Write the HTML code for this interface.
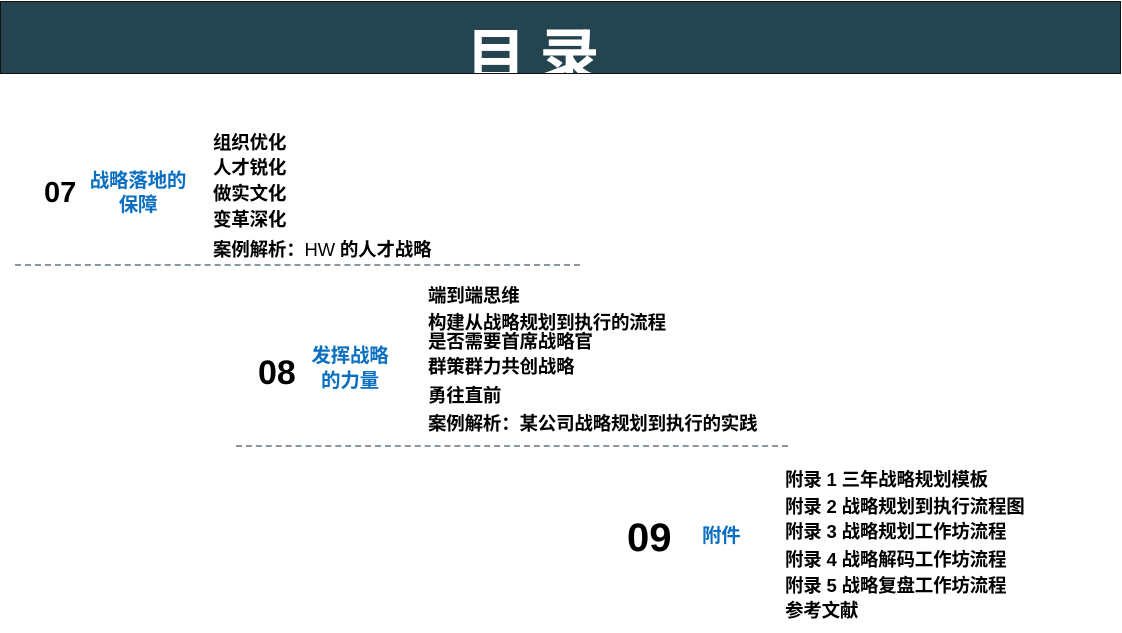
<!DOCTYPE html>
<html><head><meta charset="utf-8"><style>
body{margin:0;width:1122px;height:633px;background:#fff;position:relative;overflow:hidden;font-family:"Liberation Sans","Noto Sans CJK SC",sans-serif;}
.t{position:absolute;font-size:18.5px;line-height:20px;font-weight:bold;color:#000;white-space:nowrap;letter-spacing:-0.2px;}
.b{color:#0a6fc0;text-align:center;}
.n{position:absolute;font-weight:bold;color:#000;line-height:1;}
.d{position:absolute;height:0;border-top:2px dashed #8a97a0;}
</style></head><body>
<div style="position:absolute;left:0;top:1px;width:1119px;height:71px;background:#24444f;border:1px solid #111;"></div>
<div style="position:absolute;left:466px;top:18px;width:130px;height:55px;overflow:hidden;color:#fff;font-weight:bold;font-size:60px;line-height:70px;white-space:nowrap;font-family:'Noto Sans CJK SC',sans-serif;">目 录</div>

<div class="n" style="left:44px;top:179px;font-size:29px;">07</div>
<div class="t b" style="left:84px;top:169px;width:108px;font-size:19.5px;line-height:24px;">战略落地的<br>保障</div>
<div class="t" style="left:213px;top:133px;">组织优化</div>
<div class="t" style="left:213px;top:158px;">人才锐化</div>
<div class="t" style="left:213px;top:184px;">做实文化</div>
<div class="t" style="left:213px;top:210px;">变革深化</div>
<div class="t" style="left:213px;top:240px;">案例解析：<span style="font-weight:normal">HW</span> 的人才战略</div>
<div class="d" style="left:15px;top:264px;width:565px;"></div>

<div class="n" style="left:258px;top:356px;font-size:34px;">08</div>
<div class="t b" style="left:303px;top:344px;width:94px;font-size:19.5px;line-height:25px;">发挥战略<br>的力量</div>
<div class="t" style="left:428px;top:286px;">端到端思维</div>
<div class="t" style="left:428px;top:313px;">构建从战略规划到执行的流程</div>
<div class="t" style="left:428px;top:332px;">是否需要首席战略官</div>
<div class="t" style="left:428px;top:357px;">群策群力共创战略</div>
<div class="t" style="left:428px;top:386px;">勇往直前</div>
<div class="t" style="left:428px;top:414px;">案例解析：某公司战略规划到执行的实践</div>
<div class="d" style="left:236px;top:445px;width:552px;"></div>

<div class="n" style="left:627px;top:518px;font-size:40px;">09</div>
<div class="t b" style="left:702px;top:526px;font-size:19.5px;">附件</div>
<div class="t" style="left:785px;top:470px;">附录 1 三年战略规划模板</div>
<div class="t" style="left:785px;top:497px;">附录 2 战略规划到执行流程图</div>
<div class="t" style="left:785px;top:522px;">附录 3 战略规划工作坊流程</div>
<div class="t" style="left:785px;top:550px;">附录 4 战略解码工作坊流程</div>
<div class="t" style="left:785px;top:576px;">附录 5 战略复盘工作坊流程</div>
<div class="t" style="left:785px;top:601px;">参考文献</div>
</body></html>
